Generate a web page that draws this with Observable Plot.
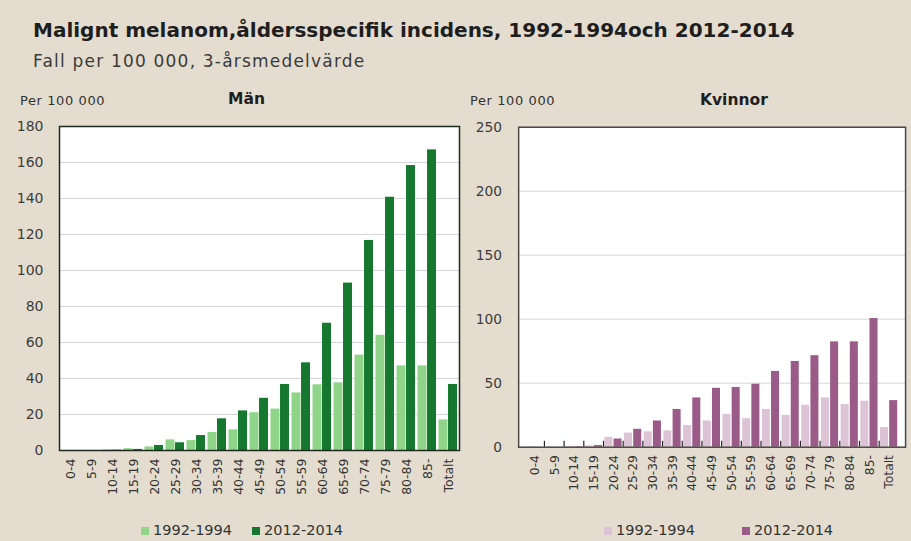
<!DOCTYPE html>
<html>
<head>
<meta charset="utf-8">
<script src="https://cdn.jsdelivr.net/npm/d3@7"></script>
<script src="https://cdn.jsdelivr.net/npm/@observablehq/plot@0.6"></script>
<style>
  html, body { margin: 0; padding: 0; background: #e4ddcf; overflow: hidden; }
  #page { position: relative; width: 911px; height: 541px; overflow: hidden; background: #e4ddcf;
          font-family: "DejaVu Sans", sans-serif; color: #1e1e1e; }
  .abs { position: absolute; white-space: nowrap; }
  #title { left: 33px; top: 18px; font-size: 20px; font-weight: bold; letter-spacing: 0px; }
  #subtitle { left: 33px; top: 51px; font-size: 17px; letter-spacing: 1.2px; color: #3a3a3a; }
  .unit { font-size: 13px; color: #333; letter-spacing: 0.6px; }
  .panel { font-size: 15.5px; font-weight: bold; }
  .legend { font-size: 14.5px; line-height: 17px; color: #333; display: flex; align-items: center; }
  .sw { display: inline-block; width: 8px; height: 8px; margin-right: 4px; }
  .plotbox { position: absolute; top: 110px; }
</style>
</head>
<body>
<div id="page">
  <div id="title" class="abs">Malignt melanom,åldersspecifik incidens, 1992-1994och 2012-2014</div>
  <div id="subtitle" class="abs">Fall per 100 000, 3-årsmedelvärde</div>
  <div class="abs unit" style="left:20px;top:93px">Per 100 000</div>
  <div class="abs panel" style="left:228px;top:90px">Män</div>
  <div class="abs unit" style="left:470px;top:93px">Per 100 000</div>
  <div class="abs panel" style="left:700px;top:91px">Kvinnor</div>
  <div id="men" class="plotbox" style="left:0px"></div>
  <div id="women" class="plotbox" style="left:465px"></div>
  <div id="legendMen" class="abs legend" style="left:141px;top:522px"></div>
  <div id="legendWomen" class="abs legend" style="left:604px;top:522px"></div>
</div>
<script>
// Age groups (plus the all-ages total) on the category axis
const ageGroups = ["0-4", "5-9", "10-14", "15-19", "20-24", "25-29", "30-34", "35-39",
  "40-44", "45-49", "50-54", "55-59", "60-64", "65-69", "70-74", "75-79", "80-84", "85-", "Totalt"];
const periods = ["1992-1994", "2012-2014"];

// Cases per 100 000, 3-year average — men
const men1992 = [0, 0, 0.3, 1, 2, 5.9, 5.5, 10, 11.5, 21, 23, 32, 36.5, 37.6, 53, 64, 47, 47, 17];
const men2012 = [0, 0, 0.2, 0.6, 2.8, 4.3, 8.3, 17.6, 22, 29, 36.7, 48.7, 70.7, 93, 116.7, 140.7, 158.3, 167, 36.7];

// Cases per 100 000, 3-year average — women
const women1992 = [0.3, 0.2, 0.5, 1, 7.7, 11, 12, 12.8, 17, 20.5, 25.6, 22.3, 29.5, 24.9, 32.8, 38.5, 33.3, 35.9, 15.4];
const women2012 = [0, 0, 0.3, 1.3, 6.4, 14, 20.5, 29.5, 38.5, 46, 46.7, 49.2, 59.2, 67, 71.5, 82.3, 82.3, 100.5, 36.4];

const menColors = ["#8fd488", "#15782e"];
const womenColors = ["#dcc4d6", "#9a5b88"];

const rows = (a, b) => ageGroups.flatMap((age, i) => [
  {age, period: periods[0], value: a[i]},
  {age, period: periods[1], value: b[i]}
]);

function panel({data, yMax, yTicks, colors, width, marginLeft, marginTop, marginBottom, plotHeight, frameColor, labelPad, boundaryTicks}) {
  const plotWidth = width - marginLeft - 6;
  const step = plotWidth / ageGroups.length;
  const half = step / 2;
  const marks = [
    Plot.frame({fill: "white", stroke: null}),
    Plot.gridY(yTicks, {stroke: "#d6d6d6", strokeOpacity: 1, strokeWidth: 1}),
    Plot.barY(data.filter(d => d.period === periods[0]), {
      x: "age", y: "value", fill: colors[0], insetLeft: 0.5, insetRight: half
    }),
    Plot.barY(data.filter(d => d.period === periods[1]), {
      x: "age", y: "value", fill: colors[1], insetLeft: half - 0.5, insetRight: 1
    }),
    Plot.axisY(yTicks, {tickSize: 0, tickPadding: labelPad, fontSize: 14, fill: "#3c3c3c"}),
    Plot.axisX({tickSize: 0, tickPadding: 8, tickRotate: -90, fontSize: 12.5, fill: "#333"})
  ];
  if (boundaryTicks) {
    // small category-boundary ticks pointing up into the plot
    marks.push(Plot.axisX(ageGroups.slice(1), {
      tickSize: -6, tickFormat: null, dx: -half, stroke: "#222", strokeWidth: 1.2
    }));
  }
  marks.push(Plot.frame({stroke: frameColor, strokeWidth: 1.5}));
  return Plot.plot({
    width,
    height: marginTop + plotHeight + marginBottom,
    marginLeft, marginRight: 6, marginTop, marginBottom,
    style: {background: "transparent", fontFamily: "DejaVu Sans, sans-serif"},
    x: {domain: ageGroups, paddingInner: 0.04, paddingOuter: 0.02, label: null},
    y: {domain: [0, yMax], label: null},
    marks
  });
}

document.getElementById("men").append(panel({
  data: rows(men1992, men2012), yMax: 180, yTicks: d3.range(0, 181, 20), colors: menColors,
  width: 465, marginLeft: 59, marginTop: 16, marginBottom: 60, plotHeight: 324,
  frameColor: "#1f2a1f", labelPad: 16, boundaryTicks: false
}));

document.getElementById("women").append(panel({
  data: rows(women1992, women2012), yMax: 250, yTicks: d3.range(0, 251, 50), colors: womenColors,
  width: 453, marginLeft: 54, marginTop: 17, marginBottom: 58, plotHeight: 325,
  frameColor: "#4a4444", labelPad: 17, boundaryTicks: true
}));

function legend(el, colors, gap) {
  el.innerHTML = periods.map((p, i) =>
    `<span class="sw" style="background:${colors[i]}"></span><span style="margin-right:${i === 0 ? gap : 0}px">${p}</span>`
  ).join("");
}
legend(document.getElementById("legendMen"), menColors, 20);
legend(document.getElementById("legendWomen"), womenColors, 47);
</script>
</body>
</html>
